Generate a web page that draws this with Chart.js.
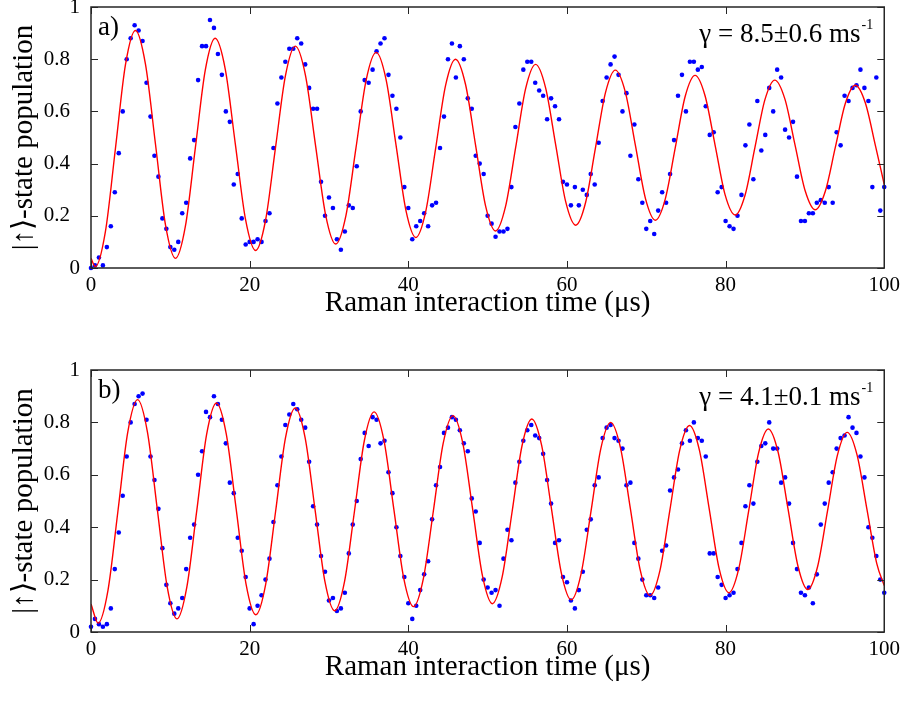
<!DOCTYPE html>
<html>
<head>
<meta charset="utf-8">
<script src="https://cdn.jsdelivr.net/npm/chart.js@4.4.1/dist/chart.umd.min.js"></script>
<style>
  html, body { margin: 0; padding: 0; background: #fff; }
  canvas { display: block; }
</style>
</head>
<body>
<canvas id="chartA" width="905" height="352"></canvas>
<canvas id="chartB" width="905" height="352"></canvas>
<script>
// measured points are taken every 0.5 us
const TIME_STEP_US = 0.5;

const X_TICKS = [0, 20, 40, 60, 80, 100];
const Y_TICKS = [0, 0.2, 0.4, 0.6, 0.8, 1];
const Y_TICK_LABELS = ['0', '0.2', '0.4', '0.6', '0.8', '1'];

// panel a) measured population
const popA = [
  0.00, 0.01, 0.04, 0.01, 0.08, 0.16, 0.29, 0.44, 0.60, 0.80, 0.88, 0.93, 0.91, 0.87, 0.71, 0.58, 0.43, 0.35, 0.19, 0.15,
  0.08, 0.07, 0.10, 0.21, 0.25, 0.42, 0.49, 0.72, 0.85, 0.85, 0.95, 0.92, 0.82, 0.74, 0.60, 0.56, 0.32, 0.36, 0.19, 0.09,
  0.10, 0.10, 0.11, 0.10, 0.18, 0.21, 0.46, 0.63, 0.73, 0.79, 0.84, 0.84, 0.88, 0.86, 0.78, 0.69, 0.61, 0.61, 0.33, 0.20,
  0.27, 0.23, 0.11, 0.07, 0.14, 0.24, 0.23, 0.39, 0.60, 0.72, 0.71, 0.76, 0.83, 0.86, 0.88, 0.74, 0.66, 0.61, 0.50, 0.31,
  0.23, 0.11, 0.16, 0.18, 0.21, 0.16, 0.24, 0.25, 0.46, 0.58, 0.80, 0.86, 0.73, 0.85, 0.80, 0.65, 0.61, 0.43, 0.40, 0.36,
  0.20, 0.17, 0.12, 0.14, 0.14, 0.15, 0.31, 0.54, 0.63, 0.76, 0.79, 0.79, 0.71, 0.68, 0.66, 0.57, 0.65, 0.62, 0.57, 0.33,
  0.32, 0.24, 0.31, 0.24, 0.30, 0.28, 0.36, 0.32, 0.48, 0.64, 0.73, 0.78, 0.81, 0.74, 0.60, 0.67, 0.43, 0.55, 0.34, 0.25,
  0.15, 0.18, 0.13, 0.22, 0.29, 0.25, 0.36, 0.49, 0.66, 0.74, 0.60, 0.79, 0.79, 0.76, 0.77, 0.62, 0.51, 0.52, 0.29, 0.31,
  0.18, 0.16, 0.15, 0.20, 0.28, 0.47, 0.55, 0.34, 0.64, 0.45, 0.51, 0.69, 0.60, 0.76, 0.73, 0.53, 0.50, 0.56, 0.35, 0.18,
  0.18, 0.21, 0.21, 0.25, 0.26, 0.25, 0.31, 0.25, 0.52, 0.47, 0.66, 0.64, 0.69, 0.70, 0.76, 0.69, 0.64, 0.31, 0.73, 0.22,
  0.31
];

// panel b) measured population
const popB = [
  0.02, 0.05, 0.03, 0.02, 0.03, 0.09, 0.24, 0.38, 0.52, 0.67, 0.80, 0.87, 0.90, 0.91, 0.81, 0.67, 0.58, 0.47, 0.32, 0.18,
  0.11, 0.07, 0.09, 0.13, 0.24, 0.36, 0.41, 0.60, 0.69, 0.84, 0.82, 0.90, 0.87, 0.81, 0.72, 0.57, 0.53, 0.36, 0.31, 0.21,
  0.09, 0.03, 0.10, 0.14, 0.20, 0.28, 0.42, 0.56, 0.67, 0.79, 0.83, 0.87, 0.85, 0.81, 0.78, 0.65, 0.48, 0.41, 0.29, 0.23,
  0.12, 0.13, 0.08, 0.09, 0.15, 0.30, 0.41, 0.50, 0.66, 0.76, 0.71, 0.82, 0.81, 0.72, 0.73, 0.61, 0.53, 0.40, 0.29, 0.21,
  0.11, 0.05, 0.10, 0.16, 0.22, 0.27, 0.43, 0.56, 0.63, 0.76, 0.78, 0.82, 0.81, 0.77, 0.72, 0.69, 0.51, 0.46, 0.34, 0.20,
  0.17, 0.15, 0.16, 0.10, 0.28, 0.39, 0.35, 0.57, 0.65, 0.73, 0.77, 0.79, 0.75, 0.74, 0.68, 0.58, 0.49, 0.34, 0.35, 0.21,
  0.19, 0.12, 0.09, 0.16, 0.23, 0.39, 0.43, 0.56, 0.59, 0.74, 0.78, 0.79, 0.74, 0.73, 0.70, 0.56, 0.57, 0.34, 0.28, 0.20,
  0.14, 0.14, 0.13, 0.17, 0.31, 0.33, 0.54, 0.59, 0.62, 0.72, 0.77, 0.73, 0.80, 0.74, 0.73, 0.67, 0.30, 0.30, 0.21, 0.18,
  0.13, 0.14, 0.15, 0.24, 0.34, 0.48, 0.56, 0.49, 0.65, 0.71, 0.72, 0.80, 0.70, 0.70, 0.57, 0.59, 0.49, 0.34, 0.24, 0.15,
  0.14, 0.17, 0.11, 0.22, 0.41, 0.49, 0.57, 0.61, 0.70, 0.74, 0.75, 0.82, 0.78, 0.76, 0.67, 0.59, 0.40, 0.36, 0.29, 0.20,
  0.15
];

// fitted curves (extrema, midpoints and points between)
const fitA_t = [
  0, 0.55, 1.81, 3.08, 4.34, 5.6, 6.86, 8.13, 9.39, 10.65, 11.9, 13.15, 14.4, 15.65, 16.93, 18.2, 19.48,
  20.75, 22.0, 23.25, 24.5, 25.75, 27.03, 28.3, 29.58, 30.85, 32.13, 33.4, 34.68, 35.95, 37.2, 38.45, 39.7,
  40.95, 42.2, 43.45, 44.7, 45.95, 47.21, 48.48, 49.74, 51.0, 52.26, 53.53, 54.79, 56.05, 57.31, 58.58, 59.84,
  61.1, 62.35, 63.6, 64.85, 66.1, 67.36, 68.63, 69.89, 71.15, 72.4, 73.65, 74.9, 76.15, 77.41, 78.68, 79.94,
  81.2, 82.45, 83.7, 84.95, 86.2, 87.48, 88.75, 90.03, 91.3, 92.56, 93.83, 95.09, 96.35, 97.61, 98.88, 100
];
const fitA_y = [
  0.037, 0.005, 0.138, 0.458, 0.778, 0.91, 0.782, 0.474, 0.165, 0.037, 0.160, 0.459, 0.757, 0.88, 0.761, 0.474, 0.186,
  0.067, 0.182, 0.459, 0.735, 0.85, 0.739, 0.471, 0.203, 0.092, 0.200, 0.459, 0.719, 0.826, 0.722, 0.472, 0.221,
  0.117, 0.217, 0.459, 0.700, 0.80, 0.704, 0.471, 0.238, 0.142, 0.236, 0.461, 0.687, 0.78, 0.690, 0.472, 0.254,
  0.164, 0.251, 0.461, 0.671, 0.758, 0.674, 0.470, 0.267, 0.183, 0.265, 0.460, 0.657, 0.738, 0.660, 0.470, 0.280,
  0.203, 0.279, 0.462, 0.644, 0.72, 0.647, 0.472, 0.296, 0.223, 0.293, 0.462, 0.630, 0.70, 0.633, 0.470, 0.320
];

const fitB_t = [
  0, 0.9, 2.14, 3.39, 4.63, 5.87, 7.11, 8.36, 9.6, 10.84, 12.08, 13.33, 14.57, 15.81, 17.05, 18.3, 19.54,
  20.78, 22.02, 23.27, 24.51, 25.75, 26.99, 28.24, 29.48, 30.72, 31.96, 33.21, 34.45, 35.69, 36.93, 38.18, 39.42,
  40.66, 41.9, 43.15, 44.39, 45.63, 46.87, 48.12, 49.36, 50.6, 51.84, 53.09, 54.33, 55.57, 56.81, 58.06, 59.3,
  60.54, 61.78, 63.03, 64.27, 65.51, 66.75, 68.0, 69.24, 70.48, 71.72, 72.97, 74.21, 75.45, 76.69, 77.94, 79.18,
  80.42, 81.66, 82.91, 84.15, 85.39, 86.63, 87.88, 89.12, 90.36, 91.6, 92.85, 94.09, 95.33, 96.57, 97.82, 99.06, 100
];
const fitB_y = [
  0.107, 0.034, 0.159, 0.460, 0.762, 0.887, 0.764, 0.468, 0.173, 0.050, 0.171, 0.462, 0.753, 0.874, 0.756, 0.470, 0.184,
  0.066, 0.182, 0.460, 0.740, 0.855, 0.742, 0.468, 0.194, 0.081, 0.192, 0.460, 0.729, 0.84, 0.731, 0.468, 0.206,
  0.097, 0.204, 0.460, 0.719, 0.826, 0.721, 0.467, 0.213, 0.108, 0.211, 0.460, 0.710, 0.813, 0.712, 0.468, 0.224,
  0.123, 0.222, 0.460, 0.700, 0.80, 0.703, 0.470, 0.236, 0.139, 0.234, 0.464, 0.693, 0.788, 0.695, 0.469, 0.243,
  0.150, 0.242, 0.462, 0.683, 0.775, 0.685, 0.468, 0.252, 0.162, 0.250, 0.462, 0.674, 0.762, 0.676, 0.468, 0.261, 0.177
];

const serif = '"Liberation Serif", "Times New Roman", serif';

// matlab-like box: inward ticks on all four sides, y labels, panel tag and decay rate
const axesBox = {
  id: 'axesBox',
  afterDraw(chart, args, opts) {
    const { ctx, chartArea: a, scales: { x, y } } = chart;
    ctx.save();
    ctx.strokeStyle = '#262626';
    ctx.lineWidth = 1;
    ctx.beginPath();
    X_TICKS.forEach(v => {
      const px = Math.round(x.getPixelForValue(v)) + 0.5;
      ctx.moveTo(px, a.bottom); ctx.lineTo(px, a.bottom - 7);
      ctx.moveTo(px, a.top); ctx.lineTo(px, a.top + 7);
    });
    Y_TICKS.forEach(v => {
      const py = Math.round(y.getPixelForValue(v)) + 0.5;
      ctx.moveTo(a.left, py); ctx.lineTo(a.left + 7, py);
      ctx.moveTo(a.right, py); ctx.lineTo(a.right - 7, py);
    });
    ctx.stroke();
    ctx.lineWidth = 1.5;
    ctx.strokeRect(a.left, a.top, a.right - a.left, a.bottom - a.top);

    ctx.fillStyle = '#000';
    ctx.font = `21px ${serif}`;
    ctx.textAlign = 'right';
    ctx.textBaseline = 'middle';
    Y_TICKS.forEach((v, i) => {
      const lab = Y_TICK_LABELS[i];
      ctx.fillText(lab, lab.length > 1 ? a.left - 21 : a.left - 11, y.getPixelForValue(v));
    });

    ctx.textBaseline = 'alphabetic';
    ctx.textAlign = 'left';
    ctx.font = `27px ${serif}`;
    ctx.fillText(opts.tag, a.left + 7, a.top + 28);

    ctx.textAlign = 'right';
    ctx.font = `14px ${serif}`;
    const supW = ctx.measureText('-1').width;
    ctx.fillText('-1', a.right - 11, a.top + 22);
    ctx.font = `27px ${serif}`;
    ctx.fillText(opts.rate, a.right - 12 - supW, a.top + 35);
    ctx.restore();
  }
};

function makePanel(id, pop, fitT, fitY, tag, rate, padTop, xHeight, xTitlePad) {
  const points = pop.map((v, i) => ({ x: i * TIME_STEP_US, y: v }));
  const fit = fitT.map((t, i) => ({ x: t, y: fitY[i] }));
  return new Chart(document.getElementById(id), {
    type: 'scatter',
    data: {
      datasets: [
        {
          type: 'line',
          data: fit,
          borderColor: '#ff0000',
          borderWidth: 1.4,
          pointRadius: 0,
          cubicInterpolationMode: 'monotone',
          order: 0
        },
        {
          data: points,
          backgroundColor: '#0000ff',
          borderWidth: 0,
          pointRadius: 2.3,
          clip: false,
          order: 1
        }
      ]
    },
    options: {
      responsive: false,
      animation: false,
      events: [],
      layout: { padding: { top: padTop, right: 19, left: 0, bottom: 0 } },
      scales: {
        x: {
          type: 'linear',
          min: 0,
          max: 100,
          afterFit(s) { s.height = xHeight; },
          grid: { display: false, drawTicks: false },
          border: { display: false },
          ticks: { stepSize: 20, padding: 5, color: '#000', font: { family: serif, size: 21 }, maxRotation: 0 },
          title: {
            display: true,
            text: 'Raman interaction time (μs)',
            color: '#000',
            font: { family: serif, size: 29 },
            padding: { top: 0, bottom: xTitlePad }
          }
        },
        y: {
          min: 0,
          max: 1,
          afterFit(s) { s.width = 91; },
          grid: { display: false, drawTicks: false },
          border: { display: false },
          ticks: { stepSize: 0.2, display: false },
          title: {
            display: true,
            text: '|\u2191\u27E9-state population',
            color: '#000',
            font: { family: serif, size: 29 },
            padding: { top: 7, bottom: 0 }
          }
        }
      },
      plugins: {
        legend: { display: false },
        tooltip: { enabled: false },
        axesBox: { tag: tag, rate: rate }
      }
    },
    plugins: [axesBox]
  });
}

makePanel('chartA', popA, fitA_t, fitA_y, 'a)', 'γ = 8.5±0.6 ms', 7, 84, 31);
makePanel('chartB', popB, fitB_t, fitB_y, 'b)', 'γ = 4.1±0.1 ms', 18, 72, 19);
</script>
</body>
</html>
